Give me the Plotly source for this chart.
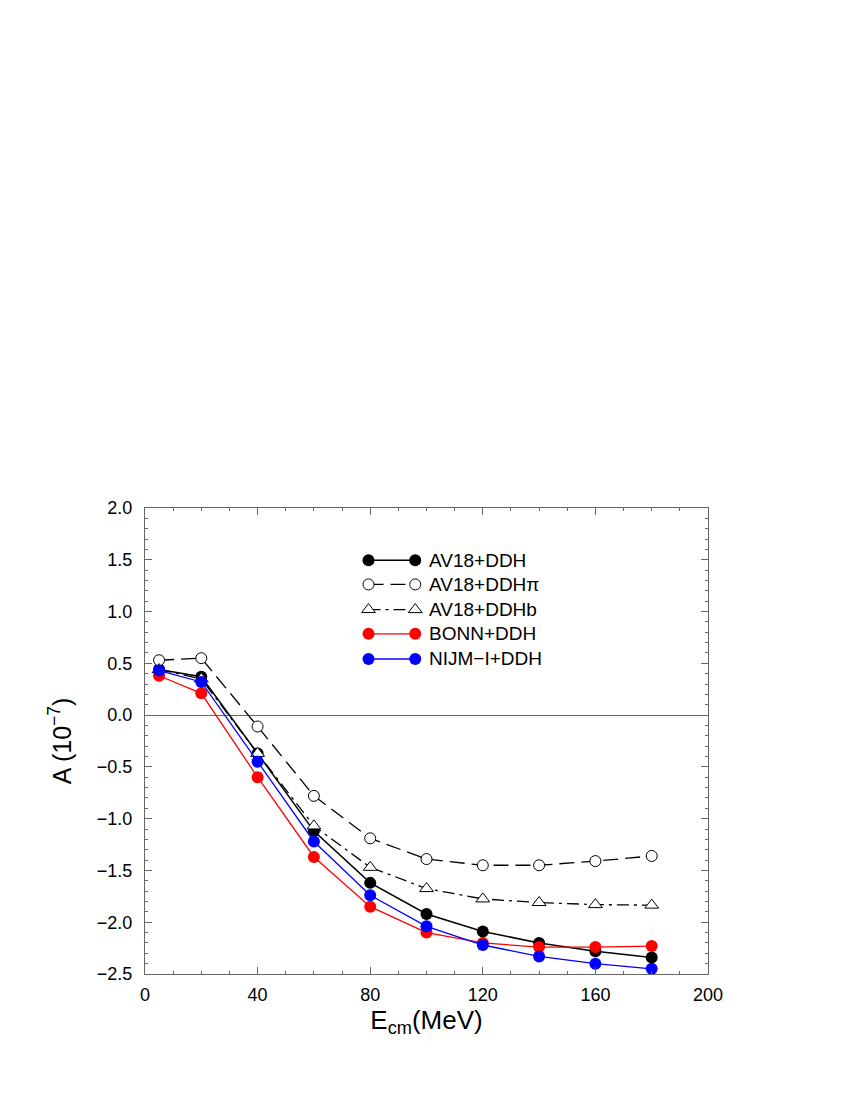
import plotly.graph_objects as go

# ---- data ----
energy = [5, 20, 40, 60, 80, 100, 120, 140, 160, 180]
av18_ddh = [0.44, 0.37, -0.37, -1.12, -1.62, -1.92, -2.09, -2.20, -2.28, -2.34]
av18_ddhpi = [0.53, 0.55, -0.11, -0.78, -1.19, -1.39, -1.45, -1.45, -1.41, -1.36]
av18_ddhb = [0.44, 0.35, -0.37, -1.07, -1.47, -1.675, -1.775, -1.81, -1.83, -1.835]
bonn_ddh = [0.38, 0.21, -0.60, -1.37, -1.85, -2.10, -2.20, -2.24, -2.24, -2.23]
nijm_ddh = [0.43, 0.32, -0.45, -1.22, -1.74, -2.04, -2.22, -2.33, -2.40, -2.45]

series_names = ["AV18+DDH", "AV18+DDH\u03c0", "AV18+DDHb", "BONN+DDH", "NIJM\u2212I+DDH"]
x_ticks = [0, 40, 80, 120, 160, 200]
y_ticks = [2.0, 1.5, 1.0, 0.5, 0.0, -0.5, -1.0, -1.5, -2.0, -2.5]

FONT = "Liberation Sans, Arial, Helvetica, sans-serif"

styles = [
    dict(line=dict(color="black", width=1.5, dash="solid"),
         marker=dict(symbol="circle", size=12, color="black")),
    dict(line=dict(color="black", width=1.3, dash="15px,7px"),
         marker=dict(symbol="circle", size=11, color="white",
                     line=dict(color="black", width=1))),
    dict(line=dict(color="black", width=1.3, dash="12px,5px,3px,5px"),
         marker=dict(symbol="triangle-up", size=12, color="white",
                     line=dict(color="black", width=1))),
    dict(line=dict(color="red", width=1.3, dash="solid"),
         marker=dict(symbol="circle", size=12, color="red")),
    dict(line=dict(color="blue", width=1.3, dash="solid"),
         marker=dict(symbol="circle", size=12, color="blue")),
]

all_series = [av18_ddh, av18_ddhpi, av18_ddhb, bonn_ddh, nijm_ddh]

fig = go.Figure()
for name, ys, st in zip(series_names, all_series, styles):
    fig.add_trace(go.Scatter(x=energy, y=ys, mode="lines+markers", name=name,
                             line=st["line"], marker=st["marker"],
                             showlegend=False))

# ---- custom legend (sample line with markers at both ends), in overlay axes ----
leg_x0, leg_x1, leg_tx = 0.397, 0.480, 0.500
leg_rows = [0.888, 0.836, 0.782, 0.730, 0.676]
for name, st, yr in zip(series_names, styles, leg_rows):
    fig.add_trace(go.Scatter(x=[leg_x0, leg_x1], y=[yr, yr], mode="lines+markers",
                             xaxis="x2", yaxis="y2", line=st["line"],
                             marker=st["marker"], showlegend=False,
                             hoverinfo="skip"))
    fig.add_annotation(x=leg_tx, y=yr, xref="x2", yref="y2", text=name,
                       showarrow=False, xanchor="left", yanchor="middle",
                       font=dict(family=FONT, size=19, color="black"))

axis_common = dict(
    showline=True, linecolor="#666", linewidth=1, mirror="ticks",
    ticks="inside", ticklen=7, tickwidth=1, tickcolor="#666",
    showgrid=False,
    tickfont=dict(family=FONT, size=18, color="black"),
)

fig.update_layout(
    width=850, height=1100,
    margin=dict(l=137, r=150, t=500, b=134),
    paper_bgcolor="white", plot_bgcolor="white",
    font=dict(family=FONT, color="black"),
    xaxis=dict(range=[0, 200], tickvals=x_ticks, ticktext=[str(v) for v in x_ticks],
               minor=dict(dtick=10, ticks="inside", ticklen=3, tickcolor="#666"),
               zeroline=False, ticklabelstandoff=4,
               title=dict(text="E<sub>cm</sub>(MeV)", standoff=6,
                          font=dict(family=FONT, size=26, color="black")),
               **axis_common),
    yaxis=dict(range=[-2.5, 2.0], tickvals=y_ticks,
               ticktext=[f"{v:.1f}".replace("-", "\u2212") for v in y_ticks],
               minor=dict(dtick=0.1, ticks="inside", ticklen=3, tickcolor="#666"),
               zeroline=True, zerolinecolor="#666", zerolinewidth=1,
               ticklabelstandoff=8,
               title=dict(text="A (10<sup>\u22127</sup>)", standoff=18,
                          font=dict(family=FONT, size=25, color="black")),
               **axis_common),
    xaxis2=dict(range=[0, 1], overlaying="x", visible=False, fixedrange=True),
    yaxis2=dict(range=[0, 1], overlaying="y", visible=False, fixedrange=True),
)

fig.write_html("out.html")
